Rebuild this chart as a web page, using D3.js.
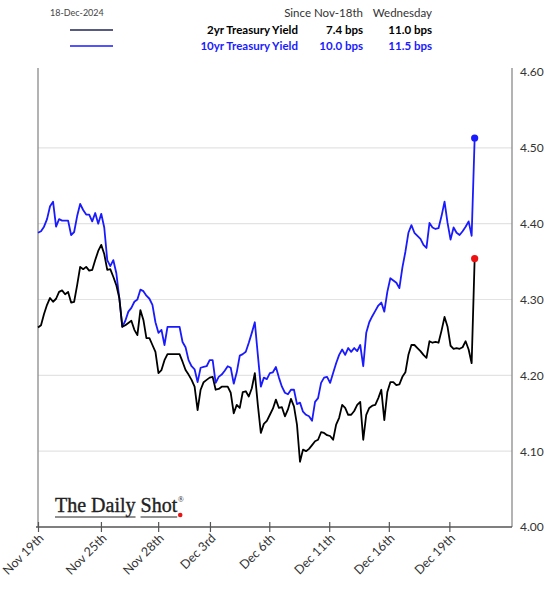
<!DOCTYPE html>
<html>
<head>
<meta charset="utf-8">
<script src="https://cdn.jsdelivr.net/npm/d3@7"></script>
<style>
  html, body { margin: 0; padding: 0; background: #fff; }
  svg { display: block; }
  text { font-family: Lato, "Noto Sans", sans-serif; }
</style>
</head>
<body>
<svg id="chart" width="560" height="589"></svg>
<script>
// ---- data (intraday samples, evenly spaced in time index) ----
const yield10 = [
  4.388, 4.390, 4.396, 4.406, 4.423, 4.429, 4.396, 4.406, 4.404, 4.404,
  4.404, 4.385, 4.389, 4.410, 4.426, 4.418, 4.412, 4.412, 4.403, 4.414,
  4.400, 4.413, 4.395, 4.352, 4.344, 4.352, 4.335, 4.302, 4.264, 4.272,
  4.284, 4.289, 4.297, 4.300, 4.313, 4.311, 4.305, 4.301, 4.293, 4.270,
  4.256, 4.260, 4.240, 4.264, 4.264, 4.264, 4.264, 4.264, 4.244, 4.237,
  4.220, 4.212, 4.208, 4.191, 4.210, 4.211, 4.212, 4.220, 4.220, 4.190,
  4.198, 4.201, 4.206, 4.212, 4.210, 4.189, 4.204, 4.226, 4.228, 4.231,
  4.243, 4.256, 4.270, 4.227, 4.185, 4.197, 4.195, 4.203, 4.204, 4.211,
  4.197, 4.185, 4.177, 4.175, 4.181, 4.181, 4.162, 4.164, 4.152, 4.148,
  4.146, 4.140, 4.165, 4.170, 4.190, 4.197, 4.198, 4.190, 4.203, 4.216,
  4.227, 4.234, 4.227, 4.236, 4.231, 4.236, 4.232, 4.240, 4.212, 4.256,
  4.270, 4.278, 4.285, 4.292, 4.296, 4.284, 4.310, 4.328, 4.325, 4.322,
  4.315, 4.342, 4.363, 4.388, 4.398, 4.388, 4.384, 4.380, 4.372, 4.368,
  4.401, 4.395, 4.393, 4.394, 4.410, 4.429, 4.401, 4.379, 4.395, 4.388,
  4.385, 4.390, 4.396, 4.403, 4.384, 4.513
];
const yield2 = [
  4.263, 4.266, 4.281, 4.293, 4.302, 4.297, 4.301, 4.310, 4.312, 4.307,
  4.310, 4.296, 4.297, 4.319, 4.343, 4.340, 4.343, 4.338, 4.339, 4.352,
  4.364, 4.372, 4.360, 4.339, 4.340, 4.330, 4.319, 4.302, 4.264, 4.266,
  4.269, 4.272, 4.260, 4.253, 4.286, 4.273, 4.249, 4.249, 4.240, 4.231,
  4.203, 4.207, 4.220, 4.228, 4.228, 4.228, 4.228, 4.228, 4.218, 4.207,
  4.201, 4.194, 4.185, 4.154, 4.181, 4.191, 4.194, 4.197, 4.198, 4.181,
  4.182, 4.185, 4.185, 4.185, 4.177, 4.150, 4.161, 4.157, 4.178, 4.179,
  4.172, 4.183, 4.203, 4.161, 4.124, 4.136, 4.140, 4.148, 4.156, 4.168,
  4.157, 4.158, 4.146, 4.155, 4.169, 4.159, 4.135, 4.086, 4.102, 4.100,
  4.103, 4.108, 4.113, 4.115, 4.125, 4.124, 4.121, 4.120, 4.115, 4.135,
  4.144, 4.161, 4.157, 4.148, 4.148, 4.153, 4.161, 4.165, 4.115, 4.148,
  4.157, 4.160, 4.161, 4.170, 4.181, 4.141, 4.178, 4.191, 4.191, 4.187,
  4.188, 4.198, 4.204, 4.227, 4.240, 4.240, 4.236, 4.232, 4.227, 4.223,
  4.245, 4.243, 4.244, 4.243, 4.259, 4.277, 4.264, 4.239, 4.235, 4.236,
  4.235, 4.237, 4.245, 4.234, 4.216, 4.354
];
const xTickIndex  = [0, 20.9, 39.9, 57.1, 76.8, 96.7, 116.5, 136.6];
const xTickLabels = ["Nov 19th", "Nov 25th", "Nov 28th", "Dec 3rd", "Dec 6th", "Dec 11th", "Dec 16th", "Dec 19th"];
const yTicks = [4.00, 4.10, 4.20, 4.30, 4.40, 4.50, 4.60];
const seriesNames = ["2yr Treasury Yield", "10yr Treasury Yield"];
const sinceNov18 = ["7.4 bps", "10.0 bps"];
const wednesday = ["11.0 bps", "11.5 bps"];
const headerCols = ["Since Nov-18th", "Wednesday"];
const dateLabel = "18-Dec-2024";

// ---- layout ----
const svg = d3.select("#chart");
const L = 38, R = 512, T = 72, B = 527;
const x = d3.scaleLinear().domain([0, 157.4]).range([L, R]);
const y = d3.scaleLinear().domain([4.0, 4.6]).range([B, T]);
const BLUE = "#1a1aff", BLACK = "#000000";

// gridlines
svg.append("g").selectAll("line")
  .data(yTicks.filter(d => d > 4.0 && d < 4.6))
  .join("line")
  .attr("x1", L).attr("x2", R)
  .attr("y1", d => y(d)).attr("y2", d => y(d))
  .attr("stroke", "#e3e3e3").attr("stroke-width", 1.2);

// frame (left & right verticals)
svg.append("line").attr("x1", L).attr("x2", L).attr("y1", T - 4).attr("y2", B)
  .attr("stroke", "#8a8a8a").attr("stroke-width", 1.3);
svg.append("line").attr("x1", R).attr("x2", R).attr("y1", T - 4).attr("y2", B)
  .attr("stroke", "#8a8a8a").attr("stroke-width", 1.3);

// right y axis labels
const yAxis = d3.axisRight(y).tickValues(yTicks).tickFormat(d3.format(".2f")).tickSize(0).tickPadding(8);
const gy = svg.append("g").attr("transform", `translate(${R},0)`).call(yAxis);
gy.select(".domain").remove();
gy.selectAll("text").attr("font-size", 12).attr("fill", "#333")
  .style("font-family", "Lato, 'Noto Sans', sans-serif");

// bottom x axis
const xAxis = d3.axisBottom(x).tickValues(xTickIndex).tickFormat((d, i) => xTickLabels[i]).tickSize(5);
const gx = svg.append("g").attr("transform", `translate(0,${B})`).call(xAxis);
gx.select(".domain").attr("d", `M${L - 2},0H${R}`).attr("stroke", "#555").attr("stroke-width", 1.3);
gx.selectAll(".tick line").attr("y1", -5).attr("y2", 5).attr("stroke", "#555").attr("stroke-width", 1.2);
gx.selectAll(".tick text")
  .attr("font-size", 12.5).attr("fill", "#333")
  .style("font-family", "Lato, 'Noto Sans', sans-serif")
  .attr("text-anchor", "end")
  .attr("x", 0).attr("y", 0).attr("dy", 0)
  .attr("transform", "translate(6,12) rotate(-45)");

// lines
const line = d3.line().x((d, i) => x(i)).y(d => y(d)).curve(d3.curveLinear);
svg.append("path").datum(yield10).attr("d", line)
  .attr("fill", "none").attr("stroke", BLUE).attr("stroke-width", 1.8).attr("stroke-linejoin", "round");
svg.append("path").datum(yield2).attr("d", line)
  .attr("fill", "none").attr("stroke", BLACK).attr("stroke-width", 1.8).attr("stroke-linejoin", "round");

// end dots
svg.append("circle").attr("cx", x(yield10.length - 1)).attr("cy", y(yield10[yield10.length - 1]))
  .attr("r", 3.6).attr("fill", BLUE);
svg.append("circle").attr("cx", x(yield2.length - 1)).attr("cy", y(yield2[yield2.length - 1]))
  .attr("r", 3.6).attr("fill", "#ee1111");

// header / legend
svg.append("text").attr("x", 50).attr("y", 16).attr("font-size", 9).attr("fill", "#444").text(dateLabel);
const colX = [363, 432];
headerCols.forEach((h, j) => {
  svg.append("text").attr("x", colX[j]).attr("y", 17).attr("text-anchor", "end")
    .attr("font-size", 11.5).attr("fill", "#333").text(h);
});
const rowY = [34, 50];
const rowColor = [BLACK, BLUE];
const legendLineColor = ["#1f2456", BLUE];
seriesNames.forEach((s, i) => {
  svg.append("line").attr("x1", 70).attr("x2", 113).attr("y1", rowY[i] - 4).attr("y2", rowY[i] - 4)
    .attr("stroke", legendLineColor[i]).attr("stroke-width", 1.7);
  svg.append("text").attr("x", 298).attr("y", rowY[i]).attr("text-anchor", "end")
    .attr("font-size", 11.5).attr("font-weight", "bold").attr("fill", rowColor[i]).text(s);
  svg.append("text").attr("x", colX[0]).attr("y", rowY[i]).attr("text-anchor", "end")
    .attr("font-size", 11.5).attr("font-weight", "bold").attr("fill", rowColor[i]).text(sinceNov18[i]);
  svg.append("text").attr("x", colX[1]).attr("y", rowY[i]).attr("text-anchor", "end")
    .attr("font-size", 11.5).attr("font-weight", "bold").attr("fill", rowColor[i]).text(wednesday[i]);
});

// logo
const logoFont = "'Liberation Serif', 'DejaVu Serif', serif";
const t1 = svg.append("text").attr("x", 55).attr("y", 512)
  .style("font-family", logoFont).attr("font-size", 20).attr("fill", "#222")
  .attr("stroke", "#222").attr("stroke-width", 0.35).text("The Daily");
const w1 = t1.node().getComputedTextLength();
const t2 = svg.append("text").attr("x", 55 + w1 + 5).attr("y", 512)
  .style("font-family", logoFont).attr("font-size", 20).attr("fill", "#222")
  .attr("stroke", "#222").attr("stroke-width", 0.35).text("Shot");
const w2 = t2.node().getComputedTextLength();
const endX = 55 + w1 + 5 + w2;
svg.append("text").attr("x", endX + 0.5).attr("y", 502).style("font-family", logoFont)
  .attr("font-size", 8).attr("fill", "#222").text("®");
svg.append("line").attr("x1", 55).attr("x2", 55 + w1).attr("y1", 517).attr("y2", 517).attr("stroke", "#222").attr("stroke-width", 1);
svg.append("line").attr("x1", 55 + w1 + 5).attr("x2", endX).attr("y1", 517).attr("y2", 517).attr("stroke", "#222").attr("stroke-width", 1);
svg.append("circle").attr("cx", endX + 3).attr("cy", 515).attr("r", 2.3).attr("fill", "#ee1111");
</script>
</body>
</html>
